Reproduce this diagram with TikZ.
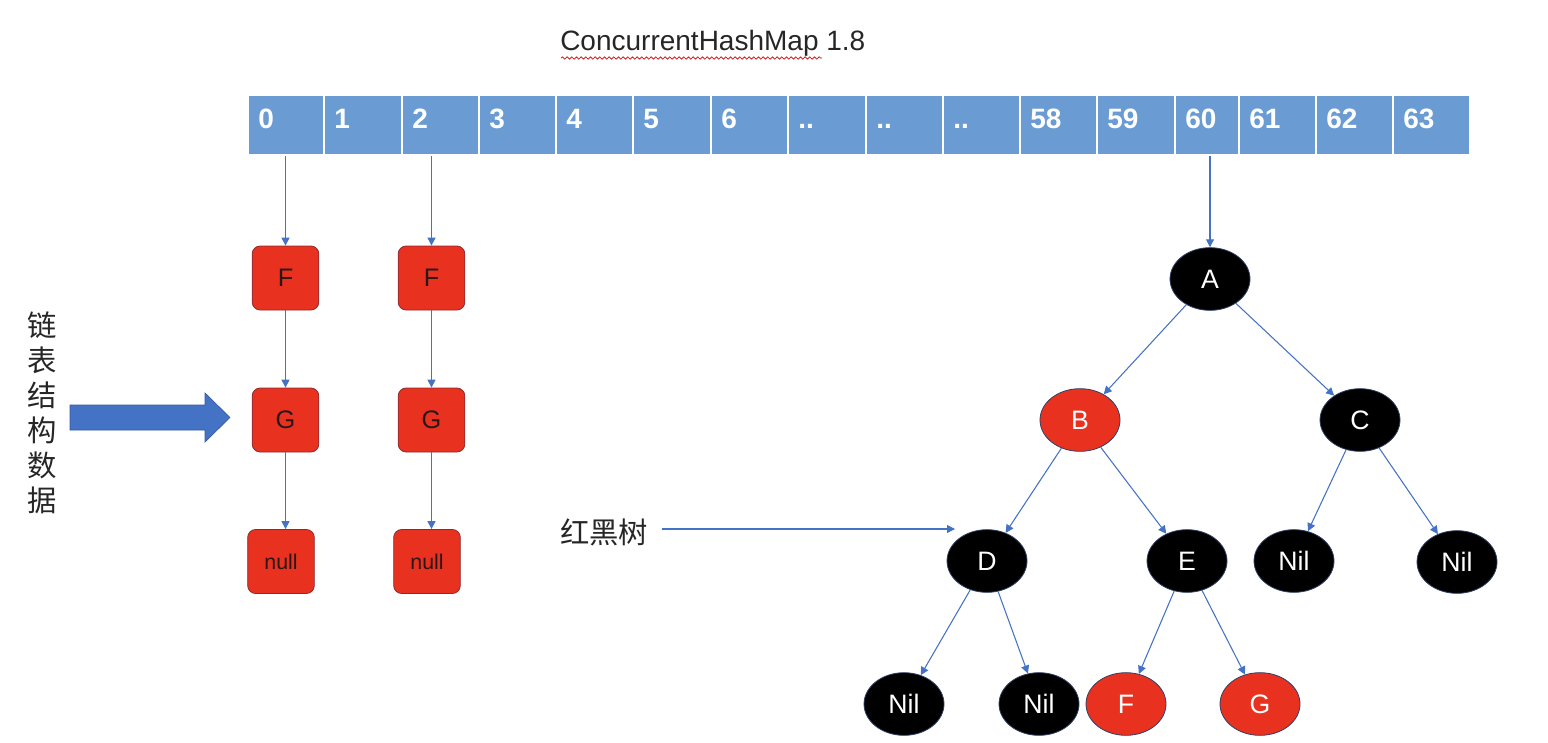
\documentclass[tikz,border=0pt]{standalone}
\usepackage{fontspec}
\setmainfont{Liberation Sans}
\newfontfamily\cjk{Noto Sans CJK SC}
\usetikzlibrary{arrows.meta,decorations.pathmorphing,shapes.geometric}
\definecolor{cellblue}{HTML}{6A9BD3}
\definecolor{linkblue}{HTML}{4472C4}
\definecolor{nodered}{HTML}{E8321F}
\definecolor{boxedge}{HTML}{8A2B33}
\definecolor{treeedge}{HTML}{2F3F66}
\definecolor{titlegray}{HTML}{262626}
\definecolor{listtext}{HTML}{2A1616}
\tikzset{
  cellbox/.style={draw=white, line width=0.9pt, fill=cellblue, inner sep=0pt, minimum height=45pt},
  celltext/.style={anchor=base west, inner sep=0pt, text=white, font=\fontsize{21}{21}\selectfont\bfseries},
  listbox/.style={draw=boxedge, line width=0.6pt, fill=nodered, rounded corners=6pt, minimum width=50pt, minimum height=48pt, inner sep=0pt, text=listtext, font=\fontsize{19}{19}\selectfont},
  nullbox/.style={listbox, font=\fontsize{16}{16}\selectfont},
  blacknode/.style={ellipse, draw=treeedge, line width=0.6pt, fill=black, minimum width=60pt, minimum height=47pt, inner sep=0pt, text=white, font=\fontsize{20}{20}\selectfont},
  rednode/.style={blacknode, fill=nodered},
  link/.style={draw=linkblue, line width=0.8pt, -{Triangle[length=6pt,width=6pt]}},
}
\begin{document}
\begin{tikzpicture}[x=0.75pt,y=-0.75pt]
\useasboundingbox (0,0) rectangle (1548,742);

% title
\node[anchor=base west, inner sep=0pt, text=titlegray, font=\fontsize{21}{21}\selectfont] (title) at (560,51) {ConcurrentHashMap 1.8};
\coordinate (sqa) at (561,58);
\coordinate (sqb) at (822,58);
\draw[red!80!black, line width=0.5pt, decorate, decoration={snake, amplitude=0.9pt, segment length=3.5pt}] (sqa) -- (sqb);

% array
\foreach \l/\r/\t [count=\i from 0] in {248/324/0, 324/402/1, 402/479/2, 479/556/3, 556/633/4, 633/711/5, 711/788/6, 788/866/.., 866/943/.., 943/1020/.., 1020/1097/58, 1097/1175/59, 1175/1239/60, 1239/1316/61, 1316/1393/62, 1393/1470/63} {
  \node[cellbox, minimum width={(\r-\l)*0.75pt}] (c\i) at ({(\l+\r)/2},125) {};
  \node[celltext] (t\i) at ({\l+10},128.5) {\t};
}

% linked lists
\node[listbox] (F1) at (285.5,278) {F};
\node[listbox] (G1) at (285.5,420) {G};
\node[nullbox] (N1) at (281,561.5) {null};
\node[listbox] (F2) at (431.5,278) {F};
\node[listbox] (G2) at (431.5,420) {G};
\node[nullbox] (N2) at (427,561.5) {null};

\draw[link] (c0.south -| F1.north) -- (F1.north);
\draw[link] (F1.south) -- (G1.north);
\draw[link] (G1.south) -- (G1.south |- N1.north);
\draw[link] (c2.south -| F2.north) -- (F2.north);
\draw[link] (F2.south) -- (G2.north);
\draw[link] (G2.south) -- (G2.south |- N2.north);

% left label and block arrow
\node[align=center, inner sep=0pt, text=titlegray, font={\cjk\fontsize{22}{26.3}\selectfont}] (lbl) at (42,413) {链\\表\\结\\构\\数\\据};
\draw[fill=linkblue, draw=linkblue!80!black, line width=0.5pt]
  (70,405) -- (205,405) -- (205,393) -- (230,417.5) -- (205,442) -- (205,430) -- (70,430) -- cycle;

% red-black tree
\node[blacknode] (A) at (1210,279) {A};
\node[rednode] (B) at (1080,420) {B};
\node[blacknode] (C) at (1360,420) {C};
\node[blacknode] (D) at (987,561) {D};
\node[blacknode] (E) at (1187,561) {E};
\node[blacknode] (NL1) at (1294,561) {Nil};
\node[blacknode] (NL2) at (1457,562) {Nil};
\node[blacknode] (NL3) at (904,704) {Nil};
\node[blacknode] (NL4) at (1039,704) {Nil};
\node[rednode] (TF) at (1126,704) {F};
\node[rednode] (TG) at (1260,704) {G};

\draw[link] (c12.south -| A.north) -- (A.north);
\draw[link] (A) -- (B);
\draw[link] (A) -- (C);
\draw[link] (B) -- (D);
\draw[link] (B) -- (E);
\draw[link] (C) -- (NL1);
\draw[link] (C) -- (NL2);
\draw[link] (D) -- (NL3);
\draw[link] (D) -- (NL4);
\draw[link] (E) -- (TF);
\draw[link] (E) -- (TG);

% tree label
\node[inner sep=0pt, text=titlegray, font={\cjk\fontsize{22}{22}\selectfont}] (rb) at (604,532) {红黑树};
\coordinate (rbend) at (955,529);
\draw[link] ([xshift=10pt]rb.east |- rbend) -- (rbend);
\end{tikzpicture}
\end{document}
